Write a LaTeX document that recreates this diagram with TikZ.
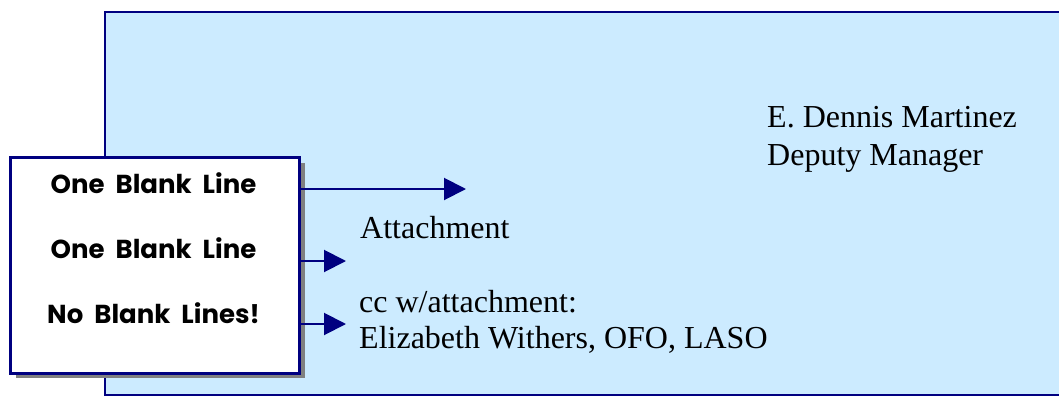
\documentclass[tikz,border=0pt]{standalone}
\usepackage{fontspec}
\setmainfont{Liberation Serif}
\newfontfamily\notefont{Poppins}[WordSpace=2]
\usetikzlibrary{arrows.meta}
\definecolor{navy}{HTML}{000080}
\definecolor{paleblue}{HTML}{CCEBFF}
\definecolor{shadowgray}{HTML}{808080}
\tikzset{
  letterbox/.style={draw=navy, line width=2.5pt, fill=paleblue},
  notebox/.style={draw=navy, line width=2.5pt, fill=white, inner sep=0pt,
    minimum width=289pt, minimum height=216pt, anchor=north west},
  notetext/.style={font=\notefont\bfseries\fontsize{26}{30}\selectfont, anchor=base, inner sep=0pt},
  lettertext/.style={font=\fontsize{32}{37}\selectfont, anchor=base west, inner sep=0pt},
  pointer/.style={draw=navy, line width=2pt, -{Triangle[length=22pt,width=22pt]}}
}
\begin{document}
\begin{tikzpicture}[x=1pt,y=-1pt]
  \useasboundingbox (0,0) rectangle (1059,396);
  \clip (0,0) rectangle (1059,396);
  % letter background
  \draw[letterbox] (105,12) rectangle (1075,395);
  % letter body text
  \node[lettertext] (name) at (767,127) {E. Dennis Martinez};
  \node[lettertext] (title) at (767,165) {Deputy Manager};
  \node[lettertext] (attach) at (360,238) {Attachment};
  \node[lettertext] (cc) at (359,312) {cc w/attachment:};
  \node[lettertext] (ccname) at (359,348) {Elizabeth Withers, OFO, LASO};
  % arrow end points
  \coordinate (tipA) at (466,189);
  \coordinate (tipB) at (346,261);
  \coordinate (tipC) at (346,324);
  % note box with drop shadow
  \fill[shadowgray] (16,163) rectangle (305,378);
  \node[notebox] (notes) at (9,156) {};
  \node[notetext] (gapA) at (153.5,193) {One Blank Line};
  \node[notetext] (gapB) at (153.5,258) {One Blank Line};
  \node[notetext] (gapC) at (153.5,323) {No Blank Lines!};
  % pointers from the note box into the letter
  \draw[pointer] (notes.east |- tipA) -- (tipA);
  \draw[pointer] (notes.east |- tipB) -- (tipB);
  \draw[pointer] (notes.east |- tipC) -- (tipC);
\end{tikzpicture}
\end{document}
